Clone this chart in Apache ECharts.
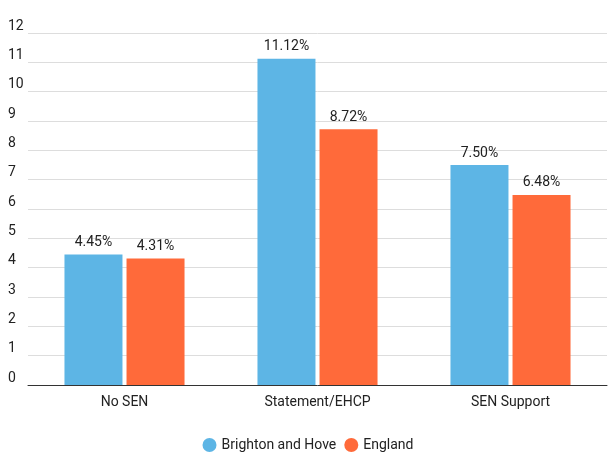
<!DOCTYPE html>
<html>
<head>
<meta charset="utf-8">
<script src="https://cdn.jsdelivr.net/npm/echarts@6/dist/echarts.min.js"></script>
<style>html,body{margin:0;padding:0;background:#fff}#main{width:616px;height:465px}</style>
</head>
<body>
<div id="main"></div>
<script>
// 数据
var categories = ["No SEN", "Statement/EHCP", "SEN Support"]
var brighton = [4.45, 11.12, 7.50]
var england = [4.31, 8.72, 6.48]

var myChart = echarts.init(document.getElementById('main'))
var labelStyle = {
  show: true,
  position: 'top',
  color: '#222',
  fontSize: 14,
  fontFamily: 'Roboto',
  formatter: function (p) { return p.value.toFixed(2) + '%' }
}
var option = {
  color: ["#5DB5E5", "#FF6A3A"],
  textStyle: { fontFamily: 'Roboto' },
  grid: { left: 28, right: 9, top: 33, bottom: 80 },
  legend: {
    bottom: 8,
    icon: 'circle',
    itemWidth: 14,
    itemHeight: 14,
    itemGap: 8,
    textStyle: { fontSize: 14, color: '#222' }
  },
  xAxis: {
    type: 'category',
    data: categories,
    axisLine: { lineStyle: { color: '#333' } },
    axisTick: { length: 30, interval: 0, lineStyle: { color: '#333' } },
    axisLabel: { color: '#222', fontSize: 14, margin: 10 }
  },
  yAxis: {
    type: 'value',
    min: 0,
    max: 12,
    interval: 1,
    axisLabel: { color: '#222', fontSize: 14, align: 'left', margin: 20, verticalAlign: 'bottom' },
    splitLine: { lineStyle: { color: '#ddd' } }
  },
  series: [
    { name: 'Brighton and Hove', type: 'bar', barWidth: 58, barGap: '7%', data: brighton, label: labelStyle },
    { name: 'England', type: 'bar', barWidth: 58, data: england, label: labelStyle }
  ]
}
myChart.setOption(option)
</script>
</body>
</html>
